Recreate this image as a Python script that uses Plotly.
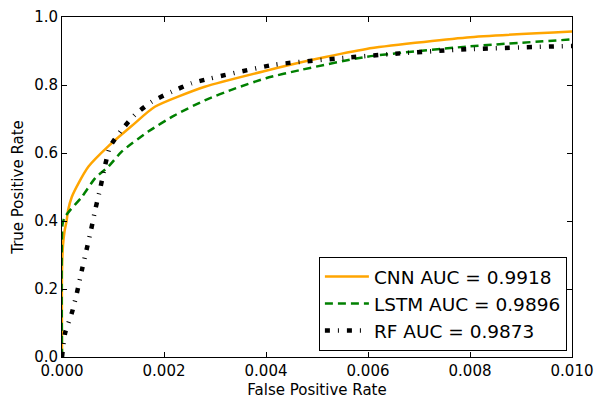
import plotly.graph_objects as go

cnn_fpr = [0, 0.0, 0.00002, 0.00005, 0.00009, 0.00012, 0.00019, 0.00032, 0.00052, 0.00091,
           0.00137, 0.00182, 0.0028, 0.0040, 0.0050, 0.00597, 0.00794, 0.01]
cnn_tpr = [0, 0.25, 0.33, 0.37, 0.40, 0.432, 0.47, 0.51, 0.56, 0.62,
           0.68, 0.736, 0.795, 0.842, 0.877, 0.906, 0.940, 0.957]

lstm_fpr = [0, 0.00001, 0.00005, 0.00016, 0.00039, 0.00065, 0.00091, 0.00117, 0.00169, 0.0022,
            0.0028, 0.0034, 0.004, 0.00467, 0.00597, 0.00794, 0.01]
lstm_tpr = [0, 0.39, 0.41, 0.432, 0.471, 0.526, 0.56, 0.604, 0.663, 0.71,
            0.755, 0.79, 0.82, 0.844, 0.883, 0.913, 0.934]

rf_fpr = [0, 0.00006, 0.00019, 0.00029, 0.00039, 0.00048, 0.00057, 0.00065, 0.00075, 0.00084,
          0.00094, 0.00117, 0.00143, 0.00176, 0.00215, 0.00254, 0.0029, 0.00414, 0.00539,
          0.00663, 0.00794, 0.01]
rf_tpr = [0, 0.07, 0.128, 0.187, 0.256, 0.315, 0.374, 0.432, 0.496, 0.56,
          0.618, 0.668, 0.712, 0.751, 0.78, 0.805, 0.819, 0.859, 0.878,
          0.893, 0.905, 0.915]

names = ["CNN AUC = 0.9918", "LSTM AUC = 0.9896", "RF AUC = 0.9873"]

fig = go.Figure()
fig.add_trace(go.Scatter(x=cnn_fpr, y=cnn_tpr, mode="lines", name=names[0],
                         line=dict(color="#FFA500", width=2.5, shape="spline", smoothing=0.6)))
fig.add_trace(go.Scatter(x=lstm_fpr, y=lstm_tpr, mode="lines", name=names[1],
                         line=dict(color="#008000", width=2.5, dash="8px,5px",
                                   shape="spline", smoothing=0.6)))
fig.add_trace(go.Scatter(x=rf_fpr, y=rf_tpr, mode="lines", name=names[2],
                         line=dict(color="black", width=4.5, dash="5px,8px,1px,8px",
                                   shape="spline", smoothing=0.6)))

font_family = "DejaVu Sans"
axis_common = dict(showline=True, linecolor="black", linewidth=1, mirror="ticks",
                   ticks="inside", ticklen=5, tickcolor="black", showgrid=False,
                   zeroline=False, automargin=False,
                   tickfont=dict(size=15, color="black", family=font_family),
                   title_font=dict(size=15, color="black", family=font_family))

fig.update_xaxes(range=[0, 0.01], dtick=0.002, tick0=0, tickformat=".3f",
                 title_text="False Positive Rate", title_standoff=9, **axis_common)
fig.update_yaxes(range=[0, 1], dtick=0.2, tick0=0, tickformat=".1f",
                 title_text="True Positive Rate", title_standoff=6, **axis_common)

fig.update_layout(
    width=595, height=399,
    margin=dict(l=62, r=23, t=17, b=42),
    plot_bgcolor="white", paper_bgcolor="white",
    font=dict(family=font_family, color="black"),
    legend=dict(x=0.99, y=0.018, xanchor="right", yanchor="bottom",
                bordercolor="black", borderwidth=1, bgcolor="white", itemwidth=44,
                font=dict(size=18.5, color="black", family=font_family)),
)

fig.write_html(
    "out.html",
    config={"displayModeBar": False},
    post_script="document.body.style.margin='0';document.body.style.overflow='hidden';",
)
